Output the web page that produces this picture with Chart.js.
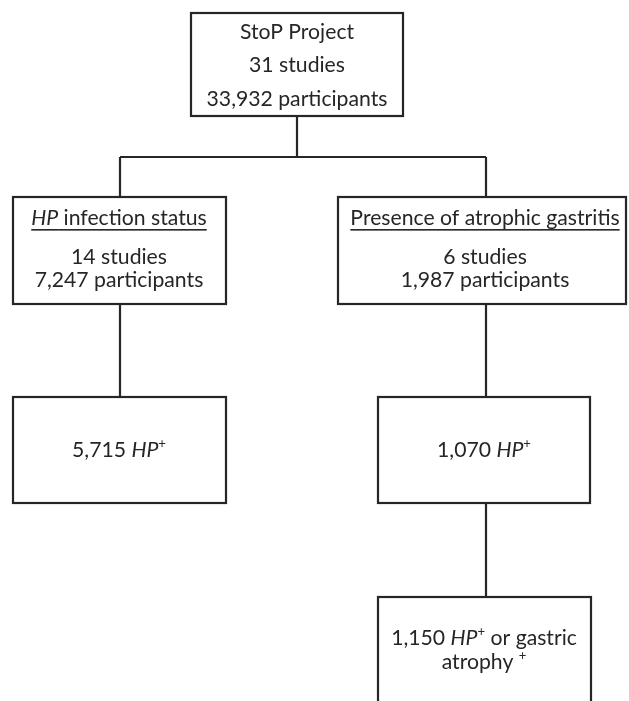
<!DOCTYPE html>
<html>
<head>
<meta charset="utf-8">
<script src="https://cdn.jsdelivr.net/npm/chart.js@4.4.1/dist/chart.umd.min.js"></script>
<style>
  html, body { margin: 0; padding: 0; background: #fff; }
  #wrap { width: 629px; height: 701px; position: relative; }
</style>
</head>
<body>
<div id="wrap"><canvas id="chart"></canvas></div>
<script>
// -------------------
// DATA
// -------------------
const projectName   = "StoP Project";
const groupTitles   = ["HP infection status", "Presence of atrophic gastritis"];
const studies       = [31, 14, 6];
const participants  = ["33,932", "7,247", "1,987"];
const hpPositive    = ["5,715", "1,070"];
const hpOrAtrophy   = "1,150";

// -------------------
// LAYOUT (axis units, 1 unit = 1px of the page)
// -------------------
const boxes = [
  { x0: 191, x1: 403, y0: 13,  y1: 116 },  // root
  { x0: 13,  x1: 226, y0: 197, y1: 304 },  // HP infection
  { x0: 338, x1: 626, y0: 197, y1: 304 },  // atrophic gastritis
  { x0: 13,  x1: 226, y0: 397, y1: 503 },  // HP+
  { x0: 378, x1: 590, y0: 397, y1: 503 },  // HP+ (gastritis)
  { x0: 378, x1: 591, y0: 597, y1: 730 }   // HP+ or atrophy (runs off page)
];
const links = [
  [[297, 116], [297, 157]],
  [[120, 157], [486, 157]],
  [[120, 157], [120, 197]],
  [[486, 157], [486, 197]],
  [[120, 304], [120, 397]],
  [[486, 304], [486, 397]],
  [[486, 503], [486, 597]]
];

const INK = "#262626";
const FONT = "Lato, 'Open Sans', sans-serif";

// rich text lines: segments {t, i: italic, s: superscript, u: underline}
const texts = [
  { cx: 297, lines: [
    { y: 32, seg: [{ t: projectName }] },
    { y: 65, seg: [{ t: studies[0] + " studies" }] },
    { y: 99, seg: [{ t: participants[0] + " participants" }] }
  ]},
  { cx: 119, lines: [
    { y: 218, seg: [{ t: "HP", i: true, u: true }, { t: groupTitles[0].slice(2), u: true }] },
    { y: 257, seg: [{ t: studies[1] + " studies" }] },
    { y: 280, seg: [{ t: participants[1] + " participants" }] }
  ]},
  { cx: 485, lines: [
    { y: 218, seg: [{ t: groupTitles[1], u: true }] },
    { y: 257, seg: [{ t: studies[2] + " studies" }] },
    { y: 280, seg: [{ t: participants[2] + " participants" }] }
  ]},
  { cx: 119, lines: [
    { y: 450, seg: [{ t: hpPositive[0] + " " }, { t: "HP", i: true }, { t: "+", s: true }] }
  ]},
  { cx: 484, lines: [
    { y: 450, seg: [{ t: hpPositive[1] + " " }, { t: "HP", i: true }, { t: "+", s: true }] }
  ]},
  { cx: 484, lines: [
    { y: 638, seg: [{ t: hpOrAtrophy + " " }, { t: "HP", i: true }, { t: "+", s: true }, { t: " or gastric" }] },
    { y: 662, seg: [{ t: "atrophy " }, { t: "+", s: true }] }
  ]}
];

// -------------------
// PLUGIN: boxes + text
// -------------------
function fontFor(seg, size) {
  const sz = seg.s ? size * 0.62 : size;
  return (seg.i ? "italic " : "") + sz.toFixed(1) + "px " + FONT;
}

const flowPlugin = {
  id: "flow",
  afterDatasetsDraw(chart) {
    const ctx = chart.ctx;
    const sx = chart.scales.x, sy = chart.scales.y;

    // fit font so the longest root line matches the picture (~181px)
    ctx.font = "20px " + FONT;
    const size = 20 * 181 / ctx.measureText("33,932 participants").width;

    ctx.save();
    boxes.forEach(b => {
      const x0 = sx.getPixelForValue(b.x0), x1 = sx.getPixelForValue(b.x1);
      const y0 = sy.getPixelForValue(b.y0), y1 = sy.getPixelForValue(b.y1);
      ctx.fillStyle = "#fff";
      ctx.fillRect(x0, y0, x1 - x0, y1 - y0);
      ctx.strokeStyle = INK;
      ctx.lineWidth = 2.2;
      ctx.strokeRect(x0, y0, x1 - x0, y1 - y0);
    });

    ctx.fillStyle = INK;
    ctx.textBaseline = "middle";
    ctx.textAlign = "left";
    texts.forEach(block => {
      block.lines.forEach(line => {
        let total = 0;
        const widths = line.seg.map(s => { ctx.font = fontFor(s, size); const w = ctx.measureText(s.t).width; total += w; return w; });
        let x = sx.getPixelForValue(block.cx) - total / 2;
        const y = sy.getPixelForValue(line.y);
        line.seg.forEach((s, k) => {
          ctx.font = fontFor(s, size);
          ctx.fillText(s.t, x, s.s ? y - size * 0.28 : y);
          if (s.u) {
            ctx.fillRect(x, y + size * 0.52, widths[k], 1.6);
          }
          x += widths[k];
        });
      });
    });
    ctx.restore();
  }
};

// -------------------
// CHART
// -------------------
const chart = new Chart(document.getElementById("chart"), {
  type: "scatter",
  data: {
    datasets: links.map(l => ({
      data: l.map(p => ({ x: p[0], y: p[1] })),
      showLine: true,
      borderColor: INK,
      borderWidth: 2.2,
      pointRadius: 0,
      fill: false
    }))
  },
  options: {
    responsive: true,
    maintainAspectRatio: false,
    animation: false,
    layout: { padding: 0 },
    plugins: { legend: { display: false }, tooltip: { enabled: false } },
    scales: {
      x: { type: "linear", min: 0, max: 629, display: false },
      y: { type: "linear", min: 0, max: 701, reverse: true, display: false }
    }
  },
  plugins: [flowPlugin]
});
</script>
</body>
</html>
